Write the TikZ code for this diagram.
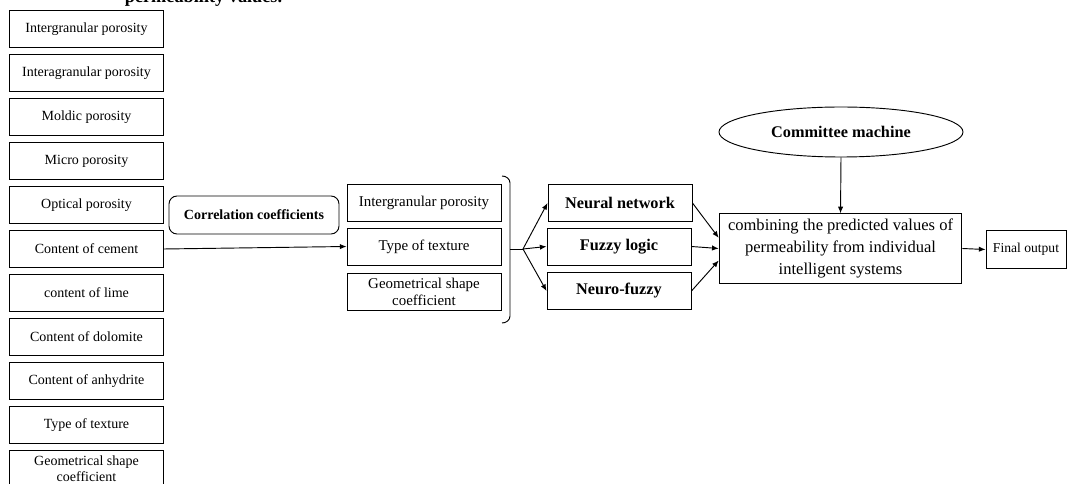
\documentclass[tikz,border=0pt]{standalone}
\usepackage{fontspec}
\setmainfont{Liberation Serif}
\usetikzlibrary{arrows.meta,shapes.geometric}
\begin{document}
\begin{tikzpicture}[x=0.75pt,y=-0.75pt,
  line width=0.7pt,
  inbox/.style={rectangle,draw,minimum width=115pt,minimum height=27.75pt,inner sep=1pt,align=center,font=\fontsize{10.5}{12}\selectfont},
  selbox/.style={inbox,minimum width=115.5pt,font=\fontsize{11.2}{12.5}\selectfont},
  modbox/.style={inbox,minimum width=108pt,font=\bfseries\fontsize{12.2}{14}\selectfont},
  arr/.style={-{Latex[length=5pt,width=4pt]}}]
\useasboundingbox (0,0) rectangle (1067,484);
\clip (0,0) rectangle (1067,484);
\node[anchor=base,font=\bfseries\fontsize{13.7}{15}\selectfont] (ttl) at (203.5,3) {permeability values.};
% input parameters
\foreach \txt [count=\i] in {Intergranular porosity,Interagranular porosity,Moldic porosity,Micro porosity,Optical porosity,Content of cement,content of lime,Content of dolomite,Content of anhydrite,Type of texture,{Geometrical shape\\coefficient}}
  \node[inbox] (in\i) at (86.5,{29+44*(\i-1)}) {\txt};
\node[rectangle,draw,rounded corners=6pt,minimum width=127.5pt,minimum height=28.5pt,font=\bfseries\fontsize{10.5}{12}\selectfont] (corr) at (254,215) {Correlation coefficients};
% selected parameters
\node[selbox] (sel1) at (424,203) {Intergranular porosity};
\node[selbox] (sel2) at (424,246.5) {Type of texture};
\node[selbox,font=\fontsize{11.2}{12.5}\selectfont] (sel3) at (424,292) {Geometrical shape\\coefficient};
\draw[arr] (in6.east) -- (sel2.west);
\draw (502,176) to[out=0,in=90] (510,183) -- (510,316) to[out=-90,in=0] (502,323);
\coordinate (brk) at (510,249);
\coordinate (fork) at (523,249);
% intelligent systems
\node[modbox] (nn) at (620,203) {Neural network};
\node[modbox] (fl) at (619,246.5) {Fuzzy logic};
\node[modbox] (nf) at (619,291) {Neuro-fuzzy};
\draw (brk) -- (fork);
\draw[arr] (fork) -- (nn.west);
\draw[arr] (fork) -- (fl.west);
\draw[arr] (fork) -- (nf.west);
% committee machine
\node[ellipse,draw,minimum width=183pt,minimum height=37.5pt,inner sep=0pt,font=\bfseries\fontsize{12.2}{14}\selectfont] (cm) at (841,132) {Committee machine};
\node[rectangle,draw,minimum width=182pt,minimum height=52pt,inner sep=1pt,align=center,font=\fontsize{12.4}{16.5}\selectfont] (comb) at (840.5,248.5) {combining the predicted values of\\permeability from individual\\intelligent systems};
\node[rectangle,draw,minimum width=60pt,minimum height=28pt,inner sep=1pt,font=\fontsize{10.2}{12}\selectfont] (out) at (1026,249.5) {Final output};
\draw[arr] (nn.east) -- ([yshift=8pt]comb.west);
\draw[arr] (fl.east) -- (comb.west);
\draw[arr] (nf.east) -- ([yshift=-9pt]comb.west);
\draw[arr] (cm.south) -- (comb.north);
\draw[arr] (comb.east) -- (out.west);
\end{tikzpicture}
\end{document}
